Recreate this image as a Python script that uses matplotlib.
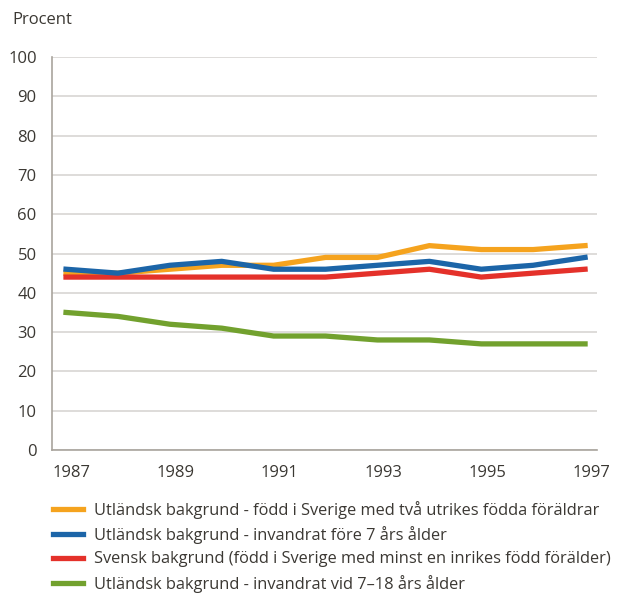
import matplotlib.pyplot as plt
from matplotlib.transforms import ScaledTranslation

plt.rcParams['font.family'] = ['Open Sans', 'DejaVu Sans']

years = list(range(1987, 1998))
fodd_sverige = [45, 45, 46, 47, 47, 49, 49, 52, 51, 51, 52]
invandrat_fore7 = [46, 45, 47, 48, 46, 46, 47, 48, 46, 47, 49]
svensk = [44, 44, 44, 44, 44, 44, 45, 46, 44, 45, 46]
invandrat_7_18 = [35, 34, 32, 31, 29, 29, 28, 28, 27, 27, 27]

labels = [
    "Utländsk bakgrund - född i Sverige med två utrikes födda föräldrar",
    "Utländsk bakgrund - invandrat före 7 års ålder",
    "Svensk bakgrund (född i Sverige med minst en inrikes född förälder)",
    "Utländsk bakgrund - invandrat vid 7–18 års ålder",
]
colors = ["#F5A31E", "#1C65A8", "#E4312A", "#72A12E"]
text_color = "#3b3833"

fig = plt.figure(figsize=(6.22, 5.96), dpi=100)
ax = fig.add_axes([52 / 622, 1 - 450 / 596, 545 / 622, 393 / 596])

series = [fodd_sverige, invandrat_fore7, svensk, invandrat_7_18]
zorders = [3, 4, 3.5, 3]
lines = []
for vals, lab, col, z in zip(series, labels, colors, zorders):
    ln, = ax.plot(years, vals, color=col, lw=3.8, label=lab, zorder=z,
                  solid_joinstyle='miter')
    lines.append(ln)

ax.set_ylim(0, 100)
ax.set_xlim(1986.73, 1997.23)
ax.set_yticks(range(0, 101, 10))
ax.set_xticks(range(1987, 1998, 2))
ax.grid(axis='y', color='#d4d2cf', lw=1.1)
ax.set_axisbelow(True)
for s in ['top', 'right']:
    ax.spines[s].set_visible(False)
for s in ['left', 'bottom']:
    ax.spines[s].set_color('#a9a49d')
    ax.spines[s].set_linewidth(1.2)
ax.tick_params(length=0, labelsize=12, labelcolor=text_color)
ax.tick_params(axis='y', pad=11)
ax.tick_params(axis='x', pad=11)
offset = ScaledTranslation(6 / 100, 0, fig.dpi_scale_trans)
for t in ax.get_xticklabels():
    t.set_transform(t.get_transform() + offset)

fig.text(12 / 622, 1 - 20 / 596, "Procent", fontsize=12, color=text_color,
         va='center', ha='left')

fig.legend(handles=lines, loc='upper left', bbox_to_anchor=(46 / 622, 1 - 494 / 596),
           frameon=False, fontsize=11.8, handlelength=1.85, handletextpad=0.7,
           labelspacing=0.45, labelcolor=text_color, borderaxespad=0)

fig.savefig("out.png", dpi=100)
